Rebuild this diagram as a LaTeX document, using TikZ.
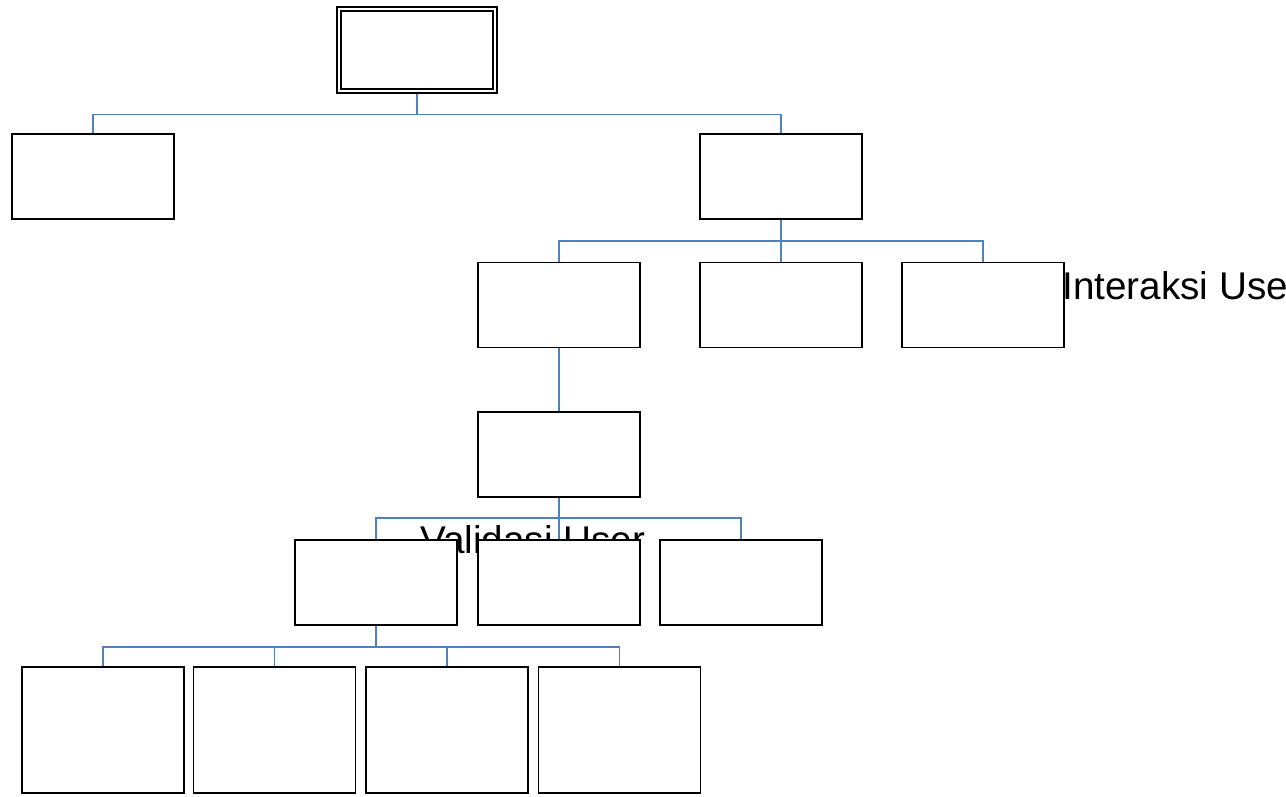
\documentclass[tikz,border=0pt]{standalone}
\usepackage{fontspec}
\setmainfont{Liberation Sans}
\usetikzlibrary{backgrounds}
\definecolor{linkblue}{HTML}{4F81BD}

\begin{document}
\begin{tikzpicture}[
    box/.style={draw, line width=1.1pt, fill=white, inner sep=0pt, outer sep=0pt,
        minimum width=3.24cm, minimum height=1.7cm},
    tallbox/.style={box, minimum height=2.52cm},
    rootbox/.style={box, double, double distance=1.2pt, line width=1.15pt,
        minimum width=3.12cm, minimum height=1.63cm},
    link/.style={draw=linkblue, line width=0.8pt},
    bigtext/.style={font=\fontsize{22}{24}\selectfont, inner sep=0pt, anchor=base west}
]
    \useasboundingbox (0,0) rectangle (25.72,-15.92);

    \node[rootbox] (root) at (8.34,-1.0) {};
    \node[box] (menuL) at (1.86,-3.53) {};
    \node[box] (menuR) at (15.62,-3.53) {};
    \node[box] (sub1) at (11.18,-6.10) {};
    \node[box] (sub2) at (15.62,-6.10) {};
    \node[box] (sub3) at (19.66,-6.10) {};
    \node[box] (valid) at (11.18,-9.09) {};

    \node[bigtext] (txtvalid) at (8.40,-11.06) {Validasi User};

    \node[box] (cek1) at (7.52,-11.65) {};
    \node[box] (cek2) at (11.18,-11.65) {};
    \node[box] (cek3) at (14.82,-11.65) {};
    \foreach \x [count=\i] in {2.06,5.49,8.94,12.39}
        \node[tallbox] (item\i) at (\x,-14.60) {};

    \node[bigtext] (txtinter) at (21.24,-5.98) {Interaksi Use};

    \begin{scope}[on background layer]
        \draw[link] (root.south) -- ++(0,-0.47) -| (menuL.north);
        \draw[link] (root.south) -- ++(0,-0.47) -| (menuR.north);
        \foreach \n in {sub1,sub2,sub3}
            \draw[link] (menuR.south) -- ++(0,-0.44) -| (\n.north);
        \draw[link] (sub1.south) -- (valid.north);
        \foreach \n in {cek1,cek2,cek3}
            \draw[link] (valid.south) -- ++(0,-0.42) -| (\n.north);
        \foreach \i in {1,...,4}
            \draw[link] (cek1.south) -- ++(0,-0.44) -| (item\i.north);
    \end{scope}
\end{tikzpicture}
\end{document}
